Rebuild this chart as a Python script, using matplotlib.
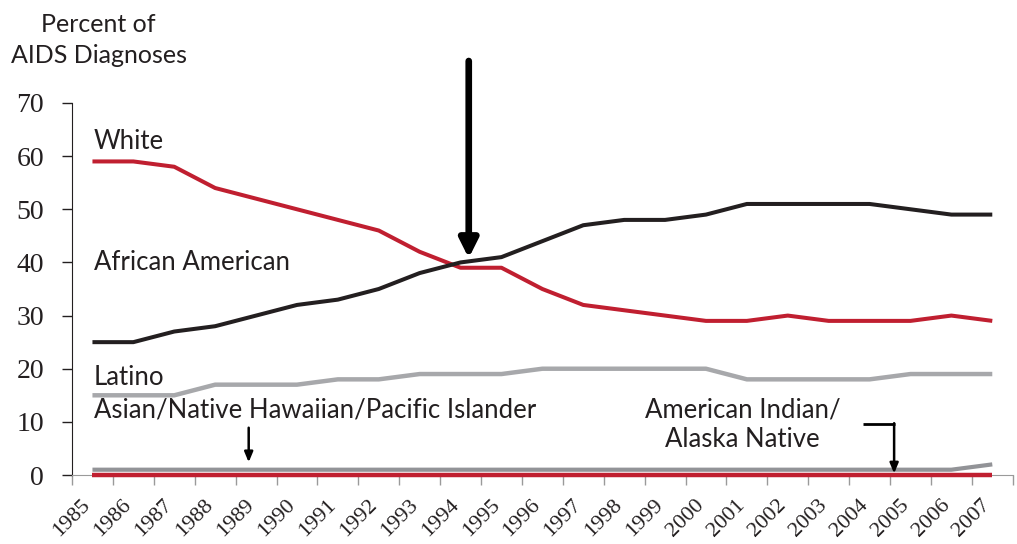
import matplotlib
matplotlib.use('Agg')
import numpy as np
import matplotlib.pyplot as plt
from matplotlib.transforms import ScaledTranslation

years = [str(y) for y in range(1985, 2008)]
white = [59, 59, 58, 54, 52, 50, 48, 46, 42, 39, 39, 35, 32, 31, 30, 29, 29, 30, 29, 29, 29, 30, 29]
african_american = [25, 25, 27, 28, 30, 32, 33, 35, 38, 40, 41, 44, 47, 48, 48, 49, 51, 51, 51, 51, 50, 49, 49]
latino = [15, 15, 15, 17, 17, 17, 18, 18, 19, 19, 19, 20, 20, 20, 20, 20, 18, 18, 18, 18, 19, 19, 19]
asian_nhpi = [1, 1, 1, 1, 1, 1, 1, 1, 1, 1, 1, 1, 1, 1, 1, 1, 1, 1, 1, 1, 1, 1, 2]
ai_an = [0] * 23

txt = '#231F20'
red = '#C01F30'
black = '#231F20'
gray_l = '#A7A8AB'
gray_d = '#929397'

fig = plt.figure(figsize=(10.17, 5.44), dpi=100)
ax = fig.add_axes([0.0708, 0.1268, 0.925, 0.6839])
x = np.arange(len(years))

ax.plot(x, ai_an, color=red, lw=3.2, solid_capstyle='butt', clip_on=False, zorder=3)
ax.plot(x, asian_nhpi, color=gray_d, lw=3.0, solid_capstyle='butt', zorder=3)
ax.plot(x, latino, color=gray_l, lw=3.2, solid_capstyle='butt', zorder=3)
ax.plot(x, white, color=red, lw=2.9, solid_capstyle='butt', zorder=3)
ax.plot(x, african_american, color=black, lw=2.9, solid_capstyle='butt', zorder=4)

ax.set_xlim(-0.5, len(years) - 0.5)
ax.set_ylim(0, 70)
ax.set_yticks(range(0, 71, 10))
ax.set_xticks(np.arange(-0.5, len(years), 1.0))
ax.set_xticklabels([])
ax.tick_params(axis='x', which='major', length=7, color='#9a9a9a', width=1)
ax.tick_params(axis='y', length=7, color=txt, width=1, pad=13)
for lab in ax.get_yticklabels():
    lab.set_family('Liberation Serif')
    lab.set_fontsize(20)
    lab.set_color(txt)

# rotated year labels, anchored at the end of their baseline below each category
lab_tr = ax.get_xaxis_transform() + ScaledTranslation(-1 / 72, -22 / 72, fig.dpi_scale_trans)
for xi, yr in zip(x, years):
    ax.text(xi, 0, yr, transform=lab_tr, rotation=45, rotation_mode='anchor',
            ha='right', va='baseline', family='Liberation Serif', fontsize=16,
            color=txt, clip_on=False)

for s in ['top', 'right']:
    ax.spines[s].set_visible(False)
ax.spines['left'].set_color(txt)
ax.spines['bottom'].set_color('#9a9a9a')

font = dict(family='Lato', color=txt)
ax.text(0.03, 62.7, 'White', fontsize=18.5, va='center', ha='left', **font)
ax.text(0.03, 39.9, 'African American', fontsize=18.5, va='center', ha='left', **font)
ax.text(0.03, 18.3, 'Latino', fontsize=18.5, va='center', ha='left', **font)
ax.text(0.03, 12.2, 'Asian/Native Hawaiian/Pacific Islander', fontsize=18.5, va='center', ha='left', **font)
ax.text(15.9, 9.5, 'American Indian/\nAlaska Native', fontsize=18.5, va='center', ha='center',
        linespacing=1.25, **font)
fig.text(0.097, 0.926, 'Percent of\nAIDS Diagnoses', fontsize=18, ha='center', va='center',
         linespacing=1.4, **font)

# arrows
ax.annotate('', xy=(9.2, 40.8), xytext=(9.2, 77.9), annotation_clip=False,
            arrowprops=dict(arrowstyle='-|>,head_length=1.1,head_width=0.55', lw=4.8,
                            color='black', shrinkA=0, shrinkB=0))
ax.annotate('', xy=(3.82, 2.4), xytext=(3.82, 8.9),
            arrowprops=dict(arrowstyle='-|>,head_length=0.6,head_width=0.25', lw=1.8,
                            color='black', shrinkA=0, shrinkB=0))
ax.plot([18.84, 19.62], [9.6, 9.6], color='black', lw=2, solid_capstyle='butt')
ax.annotate('', xy=(19.6, 0.3), xytext=(19.6, 9.75),
            arrowprops=dict(arrowstyle='-|>,head_length=0.6,head_width=0.25', lw=1.8,
                            color='black', shrinkA=0, shrinkB=0))

plt.savefig('out.png', dpi=100)
